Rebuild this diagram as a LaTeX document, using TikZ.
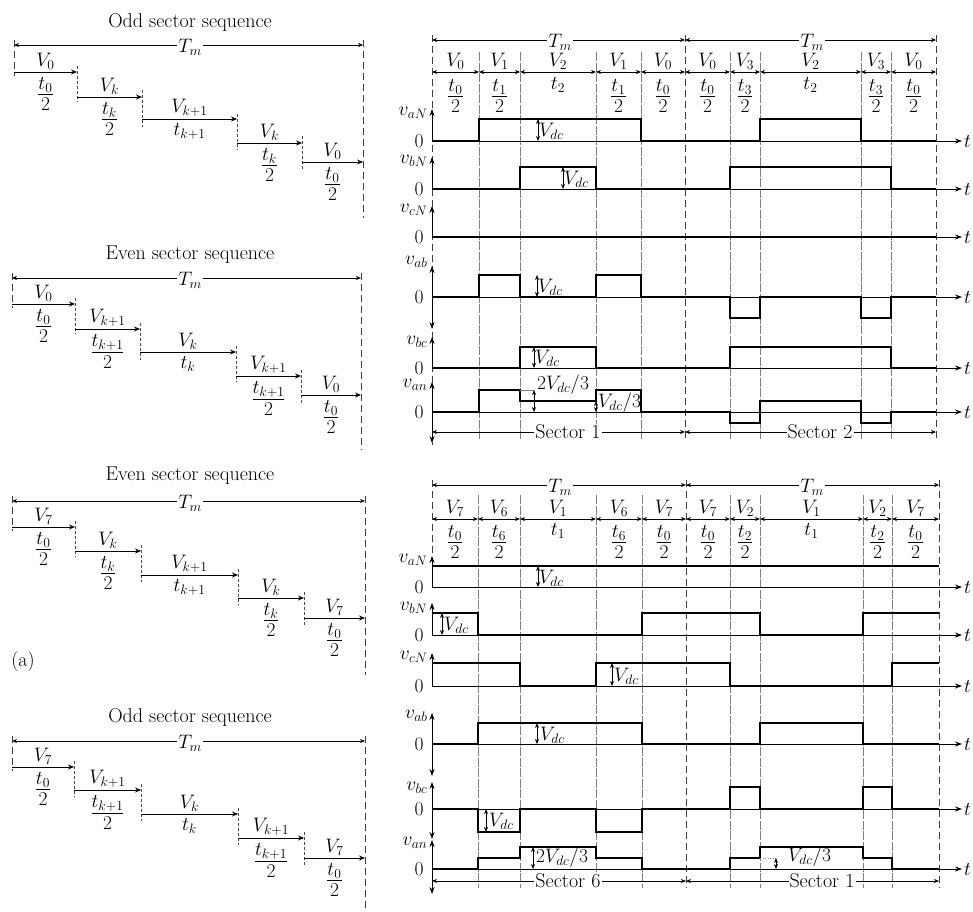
\RequirePackage{fix-cm}
\documentclass[tikz,border=0pt]{standalone}
\usepackage{amsmath}
\usepackage{tikz}
\usetikzlibrary{arrows.meta}
\usetikzlibrary{positioning}

% half-interval fraction, tighter than \dfrac
\newcommand{\hfr}[1]{\ensuremath{\vcenter{\offinterlineskip\halign{\hfil\,##\,\hfil\cr
  $#1$\cr\noalign{\kern2pt}\leaders\hrule height 0.9pt\hfill\cr\noalign{\kern3pt}$2$\cr}}}}

\begin{document}
\begin{tikzpicture}[x=1pt,y=-1pt,
  font=\fontsize{19.5}{23}\selectfont,
  big/.style={font=\fontsize{20}{24}\selectfont},
  wave/.style={line width=1.7pt},
  upar/.style={line width=0.8pt,-{Stealth[length=7pt,width=5pt]}},
  sectline/.style={gray!50!black,line width=0.9pt,dash pattern=on 7pt off 4pt},
  segline/.style={gray,line width=0.6pt,dash pattern=on 9pt off 1.5pt},
  tickln/.style={black!70,line width=0.7pt,dash pattern=on 3pt off 2pt},
  dimarr/.style={line width=0.7pt,{Stealth[length=5pt,width=4pt]}-{Stealth[length=5pt,width=4pt]}},
  stepar/.style={line width=0.8pt,-{Stealth[length=6pt,width=5pt]}},
  gap/.style={fill=white,inner sep=1pt},
  vlbl/.style={anchor=south,inner sep=1pt},
  tlbl/.style={anchor=north,inner sep=1pt}]
\useasboundingbox (0,0) rectangle (973,911);

% ---- left: odd sector sequence (V0)
\node[big] (ttlA) at (190,22) {Odd sector sequence};
\draw[sectline] (14,40) -- (14,76);
\draw[sectline] (363,40) -- (363,218);
\draw[dimarr] (14,45) -- (363,45);
\node[gap] (tmA) at (190,47) {$T_m$};
\draw[stepar] (14,72) -- (77,72);
\draw[tickln] (77,66) -- (77,102);
\draw[stepar] (77,97) -- (142,97);
\draw[tickln] (142,90) -- (142,127);
\draw[stepar] (142,119) -- (237,119);
\draw[tickln] (237,114) -- (237,150);
\draw[stepar] (237,143) -- (302,143);
\draw[tickln] (302,136) -- (302,170);
\draw[stepar] (302,162) -- (363,162);
\node[vlbl] (vA1) at (45.5,71) {$V_0$};
\node[tlbl] (tA1) at (45.5,76) {\hfr{t_0}};
\node[vlbl] (vA2) at (109.5,96) {$V_k$};
\node[tlbl] (tA2) at (109.5,101) {\hfr{t_k}};
\node[vlbl] (vA3) at (189.5,118) {$V_{k+1}$};
\node[tlbl] (tA3) at (189.5,122) {$t_{k+1}$};
\node[vlbl] (vA4) at (269.5,142) {$V_k$};
\node[tlbl] (tA4) at (269.5,147) {\hfr{t_k}};
\node[vlbl] (vA5) at (332.5,161) {$V_0$};
\node[tlbl] (tA5) at (332.5,166) {\hfr{t_0}};

% ---- left: even sector sequence (V0)
\node[big] (ttlB) at (190,255) {Even sector sequence};
\draw[sectline] (12,273) -- (12,308);
\draw[sectline] (361,273) -- (361,450);
\draw[dimarr] (12,278) -- (361,278);
\node[gap] (tmB) at (190,280) {$T_m$};
\draw[stepar] (12,304) -- (75,304);
\draw[tickln] (75,298) -- (75,334);
\draw[stepar] (75,329) -- (140,329);
\draw[tickln] (140,323) -- (140,360);
\draw[stepar] (140,352) -- (236,352);
\draw[tickln] (236,346) -- (236,382);
\draw[stepar] (236,376) -- (301,376);
\draw[tickln] (301,370) -- (301,403);
\draw[stepar] (301,395) -- (361,395);
\node[vlbl] (vB1) at (43.5,303) {$V_0$};
\node[tlbl] (tB1) at (43.5,308) {\hfr{t_0}};
\node[vlbl] (vB2) at (107.5,328) {$V_{k+1}$};
\node[tlbl] (tB2) at (107.5,333) {\hfr{t_{k+1}}};
\node[vlbl] (vB3) at (188,351) {$V_k$};
\node[tlbl] (tB3) at (188,355) {$t_k$};
\node[vlbl] (vB4) at (268.5,375) {$V_{k+1}$};
\node[tlbl] (tB4) at (268.5,380) {\hfr{t_{k+1}}};
\node[vlbl] (vB5) at (331,394) {$V_0$};
\node[tlbl] (tB5) at (331,399) {\hfr{t_0}};

% ---- left: even sector sequence (V7)
\node[big] (ttlC) at (190,476) {Even sector sequence};
\draw[sectline] (12,496) -- (12,531);
\draw[sectline] (365,496) -- (365,675);
\draw[dimarr] (12,501) -- (365,501);
\node[gap] (tmC) at (190,503) {$T_m$};
\draw[stepar] (12,527) -- (75,527);
\draw[tickln] (75,521) -- (75,557);
\draw[stepar] (75,551) -- (141,551);
\draw[tickln] (141,545) -- (141,582);
\draw[stepar] (141,575) -- (238,575);
\draw[tickln] (238,569) -- (238,605);
\draw[stepar] (238,598) -- (304,598);
\draw[tickln] (304,592) -- (304,626);
\draw[stepar] (304,618) -- (365,618);
\node[vlbl] (vC1) at (43.5,526) {$V_7$};
\node[tlbl] (tC1) at (43.5,531) {\hfr{t_0}};
\node[vlbl] (vC2) at (108,550) {$V_k$};
\node[tlbl] (tC2) at (108,555) {\hfr{t_k}};
\node[vlbl] (vC3) at (189.5,574) {$V_{k+1}$};
\node[tlbl] (tC3) at (189.5,578) {$t_{k+1}$};
\node[vlbl] (vC4) at (271,597) {$V_k$};
\node[tlbl] (tC4) at (271,602) {\hfr{t_k}};
\node[vlbl] (vC5) at (334.5,617) {$V_7$};
\node[tlbl] (tC5) at (334.5,622) {\hfr{t_0}};
\node[big] (capa) at (23,661) {(a)};

% ---- left: odd sector sequence (V7)
\node[big] (ttlD) at (190,717) {Odd sector sequence};
\draw[sectline] (12,736) -- (12,771);
\draw[sectline] (365,736) -- (365,911);
\draw[dimarr] (12,741) -- (365,741);
\node[gap] (tmD) at (190,743) {$T_m$};
\draw[stepar] (12,767) -- (74,767);
\draw[tickln] (74,761) -- (74,797);
\draw[stepar] (74,790) -- (141,790);
\draw[tickln] (141,784) -- (141,821);
\draw[stepar] (141,814) -- (238,814);
\draw[tickln] (238,808) -- (238,845);
\draw[stepar] (238,838) -- (304,838);
\draw[tickln] (304,832) -- (304,866);
\draw[stepar] (304,858) -- (365,858);
\node[vlbl] (vD1) at (43,766) {$V_7$};
\node[tlbl] (tD1) at (43,771) {\hfr{t_0}};
\node[vlbl] (vD2) at (107.5,789) {$V_{k+1}$};
\node[tlbl] (tD2) at (107.5,794) {\hfr{t_{k+1}}};
\node[vlbl] (vD3) at (189.5,813) {$V_k$};
\node[tlbl] (tD3) at (189.5,817) {$t_k$};
\node[vlbl] (vD4) at (271,837) {$V_{k+1}$};
\node[tlbl] (tD4) at (271,842) {\hfr{t_{k+1}}};
\node[vlbl] (vD5) at (334.5,857) {$V_7$};
\node[tlbl] (tD5) at (334.5,862) {\hfr{t_0}};

% ==== right top: sectors 1 and 2
\draw[sectline] (432,35) -- (432,445);
\draw[sectline] (685,35) -- (685,440);
\draw[sectline] (936,35) -- (936,440);
\draw[segline] (479,52) -- (479,440);
\draw[segline] (520,52) -- (520,440);
\draw[segline] (596,52) -- (596,440);
\draw[segline] (641,52) -- (641,440);
\draw[segline] (730,52) -- (730,440);
\draw[segline] (760,52) -- (760,440);
\draw[segline] (861,52) -- (861,440);
\draw[segline] (891,52) -- (891,440);
\draw[dimarr] (432,40) -- (685,40);
\node[gap] (tmE1) at (560,42) {$T_m$};
\draw[dimarr] (685,40) -- (936,40);
\node[gap] (tmE2) at (812,42) {$T_m$};
\draw[dimarr] (432,72) -- (479,72);
\draw[dimarr] (479,72) -- (520,72);
\draw[dimarr] (520,72) -- (596,72);
\draw[dimarr] (596,72) -- (641,72);
\draw[dimarr] (641,72) -- (685,72);
\draw[dimarr] (685,72) -- (730,72);
\draw[dimarr] (730,72) -- (760,72);
\draw[dimarr] (760,72) -- (861,72);
\draw[dimarr] (861,72) -- (891,72);
\draw[dimarr] (891,72) -- (936,72);
\node[vlbl] (vE1) at (455.5,71) {$V_0$};
\node[vlbl] (vE2) at (499.5,71) {$V_1$};
\node[vlbl] (vE3) at (558,71) {$V_2$};
\node[vlbl] (vE4) at (618.5,71) {$V_1$};
\node[vlbl] (vE5) at (663,71) {$V_0$};
\node[vlbl] (vE6) at (707.5,71) {$V_0$};
\node[vlbl] (vE7) at (745,71) {$V_3$};
\node[vlbl] (vE8) at (810.5,71) {$V_2$};
\node[vlbl] (vE9) at (876,71) {$V_3$};
\node[vlbl] (vE10) at (913.5,71) {$V_0$};
\node[tlbl] (tE1) at (455.5,78) {\hfr{t_0}};
\node[tlbl] (tE2) at (499.5,78) {\hfr{t_1}};
\node[tlbl] (tE3) at (558,76) {$t_2$};
\node[tlbl] (tE4) at (618.5,78) {\hfr{t_1}};
\node[tlbl] (tE5) at (663,78) {\hfr{t_0}};
\node[tlbl] (tE6) at (707.5,78) {\hfr{t_0}};
\node[tlbl] (tE7) at (745,78) {\hfr{t_3}};
\node[tlbl] (tE8) at (810.5,76) {$t_2$};
\node[tlbl] (tE9) at (876,78) {\hfr{t_3}};
\node[tlbl] (tE10) at (913.5,78) {\hfr{t_0}};

% v_aN
\draw[upar] (432,141) -- (432,109);
\draw[upar] (432,141) -- (962,141);
\node[anchor=east] (lE1) at (431,113) {$v_{aN}$};
\node[anchor=east] (zE1) at (427,141) {0};
\node[anchor=west,inner sep=1pt] (xE1) at (963,141) {$t$};
\draw[wave] (432,141) -- (479,141) -- (479,119) -- (641,119) -- (641,141) -- (760,141) -- (760,119) -- (861,119) -- (861,141) -- (936,141);
\draw[dimarr] (538,119) -- (538,141);
\node[anchor=west,inner sep=1pt] (dE1) at (538,131) {$V_{dc}$};
% v_bN
\draw[upar] (432,189) -- (432,157);
\draw[upar] (432,189) -- (962,189);
\node[anchor=east] (lE2) at (431,161) {$v_{bN}$};
\node[anchor=east] (zE2) at (427,189) {0};
\node[anchor=west,inner sep=1pt] (xE2) at (963,189) {$t$};
\draw[wave] (432,189) -- (520,189) -- (520,167) -- (596,167) -- (596,189) -- (730,189) -- (730,167) -- (891,167) -- (891,189) -- (936,189);
\draw[dimarr] (563,167) -- (563,189);
\node[anchor=west,inner sep=1pt] (dE2) at (563,179) {$V_{dc}$};
% v_cN
\draw[upar] (432,237) -- (432,206);
\draw[upar] (432,237) -- (962,237);
\node[anchor=east] (lE3) at (431,210) {$v_{cN}$};
\node[anchor=east] (zE3) at (427,237) {0};
\node[anchor=west,inner sep=1pt] (xE3) at (963,237) {$t$};
\draw[wave] (432,237) -- (936,237);
% v_ab
\draw[upar] (432,297) -- (432,266);
\draw[upar] (432,297) -- (432,329);
\draw[upar] (432,297) -- (962,297);
\node[anchor=east] (lE4) at (431,262) {$v_{ab}$};
\node[anchor=east] (zE4) at (427,297) {0};
\node[anchor=west,inner sep=1pt] (xE4) at (963,297) {$t$};
\draw[wave] (432,297) -- (479,297) -- (479,275) -- (520,275) -- (520,297) -- (596,297) -- (596,275) -- (641,275) -- (641,297) -- (730,297) -- (730,318) -- (760,318) -- (760,297) -- (861,297) -- (861,318) -- (891,318) -- (891,297) -- (936,297);
\draw[dimarr] (537,275) -- (537,297);
\node[anchor=west,inner sep=1pt] (dE4) at (537,287) {$V_{dc}$};
% v_bc
\draw[upar] (432,368) -- (432,337);
\draw[upar] (432,368) -- (962,368);
\node[anchor=east] (lE5) at (431,342) {$v_{bc}$};
\node[anchor=east] (zE5) at (427,368) {0};
\node[anchor=west,inner sep=1pt] (xE5) at (963,368) {$t$};
\draw[wave] (432,368) -- (520,368) -- (520,347) -- (596,347) -- (596,368) -- (730,368) -- (730,347) -- (891,347) -- (891,368) -- (936,368);
\draw[dimarr] (534,347) -- (534,368);
\node[anchor=west,inner sep=1pt] (dE5) at (534,358) {$V_{dc}$};
% v_an
\draw[upar] (432,412) -- (432,382);
\draw[upar] (432,412) -- (432,443);
\draw[upar] (432,412) -- (962,412);
\node[anchor=east] (lE6) at (431,385) {$v_{an}$};
\node[anchor=east] (zE6) at (427,412) {0};
\node[anchor=west,inner sep=1pt] (xE6) at (963,412) {$t$};
\draw[wave] (432,412) -- (479,412) -- (479,390) -- (520,390) -- (520,401) -- (596,401) -- (596,390) -- (641,390) -- (641,412) -- (730,412) -- (730,423) -- (760,423) -- (760,401) -- (861,401) -- (861,423) -- (891,423) -- (891,412) -- (936,412);
\draw[gray,line width=0.5pt] (520,390) -- (534,390);
\draw[dimarr] (534,390) -- (534,412);
\node[anchor=west,inner sep=1pt] (dE6) at (536,385) {$2V_{dc}/3$};
\draw[dimarr] (596,401) -- (596,412);
\node[anchor=west,inner sep=1pt] (dE7) at (597,403) {$V_{dc}/3$};
\draw[dimarr] (432,432) -- (685,432);
\node[gap,big] (scE1) at (568,432) {Sector 1};
\draw[dimarr] (685,432) -- (936,432);
\node[gap,big] (scE2) at (820,432) {Sector 2};

% ==== right bottom: sectors 6 and 1
\draw[sectline] (432,480) -- (432,557);
\draw[sectline] (686,480) -- (686,888);
\draw[sectline] (939,480) -- (939,888);
\draw[segline] (478,495) -- (478,888);
\draw[segline] (520,495) -- (520,888);
\draw[segline] (596,495) -- (596,888);
\draw[segline] (642,495) -- (642,888);
\draw[segline] (730,495) -- (730,888);
\draw[segline] (760,495) -- (760,888);
\draw[segline] (863,495) -- (863,888);
\draw[segline] (892,495) -- (892,888);
\draw[dimarr] (432,485) -- (686,485);
\node[gap] (tmF1) at (560,487) {$T_m$};
\draw[dimarr] (686,485) -- (939,485);
\node[gap] (tmF2) at (812,487) {$T_m$};
\draw[dimarr] (432,519) -- (478,519);
\draw[dimarr] (478,519) -- (520,519);
\draw[dimarr] (520,519) -- (596,519);
\draw[dimarr] (596,519) -- (642,519);
\draw[dimarr] (642,519) -- (686,519);
\draw[dimarr] (686,519) -- (730,519);
\draw[dimarr] (730,519) -- (760,519);
\draw[dimarr] (760,519) -- (863,519);
\draw[dimarr] (863,519) -- (892,519);
\draw[dimarr] (892,519) -- (939,519);
\node[vlbl] (vF1) at (455,518) {$V_7$};
\node[vlbl] (vF2) at (499,518) {$V_6$};
\node[vlbl] (vF3) at (558,518) {$V_1$};
\node[vlbl] (vF4) at (619,518) {$V_6$};
\node[vlbl] (vF5) at (664,518) {$V_7$};
\node[vlbl] (vF6) at (708,518) {$V_7$};
\node[vlbl] (vF7) at (745,518) {$V_2$};
\node[vlbl] (vF8) at (811.5,518) {$V_1$};
\node[vlbl] (vF9) at (877.5,518) {$V_2$};
\node[vlbl] (vF10) at (915.5,518) {$V_7$};
\node[tlbl] (tF1) at (455,524) {\hfr{t_0}};
\node[tlbl] (tF2) at (499,524) {\hfr{t_6}};
\node[tlbl] (tF3) at (558,522) {$t_1$};
\node[tlbl] (tF4) at (619,524) {\hfr{t_6}};
\node[tlbl] (tF5) at (664,524) {\hfr{t_0}};
\node[tlbl] (tF6) at (708,524) {\hfr{t_0}};
\node[tlbl] (tF7) at (745,524) {\hfr{t_2}};
\node[tlbl] (tF8) at (811.5,522) {$t_1$};
\node[tlbl] (tF9) at (877.5,524) {\hfr{t_2}};
\node[tlbl] (tF10) at (915.5,524) {\hfr{t_0}};

% v_aN
\draw[upar] (432,587) -- (432,556);
\draw[upar] (432,587) -- (962,587);
\node[anchor=east] (lF1) at (431,560) {$v_{aN}$};
\node[anchor=east] (zF1) at (427,587) {0};
\node[anchor=west,inner sep=1pt] (xF1) at (963,587) {$t$};
\draw[wave] (432,566) -- (939,566);
\draw[dimarr] (538,566) -- (538,587);
\node[anchor=west,inner sep=1pt] (dF1) at (538,578) {$V_{dc}$};
% v_bN
\draw[upar] (432,635) -- (432,603);
\draw[upar] (432,635) -- (962,635);
\node[anchor=east] (lF2) at (431,608) {$v_{bN}$};
\node[anchor=east] (zF2) at (427,635) {0};
\node[anchor=west,inner sep=1pt] (xF2) at (963,635) {$t$};
\draw[wave] (432,613) -- (478,613) -- (478,635) -- (642,635) -- (642,613) -- (760,613) -- (760,635) -- (863,635) -- (863,613) -- (939,613);
\draw[dimarr] (442,613) -- (442,635);
\node[anchor=west,inner sep=1pt] (dF2) at (443,625) {$V_{dc}$};
% v_cN
\draw[upar] (432,686) -- (432,653);
\draw[upar] (432,686) -- (962,686);
\node[anchor=east] (lF3) at (431,657) {$v_{cN}$};
\node[anchor=east] (zF3) at (427,686) {0};
\node[anchor=west,inner sep=1pt] (xF3) at (963,686) {$t$};
\draw[wave] (432,663) -- (520,663) -- (520,686) -- (596,686) -- (596,663) -- (730,663) -- (730,686) -- (892,686) -- (892,663) -- (939,663);
\draw[dimarr] (612,663) -- (612,686);
\node[anchor=west,inner sep=1pt] (dF3) at (613,676) {$V_{dc}$};
% v_ab
\draw[upar] (432,744) -- (432,713);
\draw[upar] (432,744) -- (432,776);
\draw[upar] (432,744) -- (962,744);
\node[anchor=east] (lF4) at (431,716) {$v_{ab}$};
\node[anchor=east] (zF4) at (427,744) {0};
\node[anchor=west,inner sep=1pt] (xF4) at (963,744) {$t$};
\draw[wave] (432,744) -- (478,744) -- (478,723) -- (642,723) -- (642,744) -- (760,744) -- (760,723) -- (863,723) -- (863,744) -- (939,744);
\draw[dimarr] (537,723) -- (537,744);
\node[anchor=west,fill=white,inner sep=1pt] (dF4) at (539,735) {$V_{dc}$};
% v_bc
\draw[upar] (432,809) -- (432,782);
\draw[upar] (432,809) -- (432,839);
\draw[upar] (432,809) -- (962,809);
\node[anchor=east] (lF5) at (431,788) {$v_{bc}$};
\node[anchor=east] (zF5) at (427,809) {0};
\node[anchor=west,inner sep=1pt] (xF5) at (963,809) {$t$};
\draw[wave] (432,809) -- (478,809) -- (478,832) -- (520,832) -- (520,809) -- (596,809) -- (596,832) -- (642,832) -- (642,809) -- (730,809) -- (730,787) -- (760,787) -- (760,809) -- (863,809) -- (863,787) -- (892,787) -- (892,809) -- (939,809);
\draw[dimarr] (486,809) -- (486,832);
\node[anchor=west,fill=white,inner sep=1pt] (dF5) at (488,821) {$V_{dc}$};
% v_an
\draw[upar] (432,869) -- (432,840);
\draw[upar] (432,869) -- (432,894);
\draw[upar] (432,869) -- (962,869);
\node[anchor=east] (lF6) at (431,843) {$v_{an}$};
\node[anchor=east] (zF6) at (427,869) {0};
\node[anchor=west,inner sep=1pt] (xF6) at (963,869) {$t$};
\draw[wave] (432,869) -- (478,869) -- (478,858) -- (520,858) -- (520,847) -- (596,847) -- (596,858) -- (642,858) -- (642,869) -- (730,869) -- (730,858) -- (760,858) -- (760,847) -- (863,847) -- (863,858) -- (892,858) -- (892,869) -- (939,869);
\draw[dimarr] (533,847) -- (533,869);
\node[anchor=west,inner sep=1pt] (dF6) at (535,858) {$2V_{dc}/3$};
\draw[gray,line width=0.5pt,dotted] (760,858) -- (776,858);
\draw[dimarr] (776,858) -- (776,869);
\node[anchor=west,inner sep=1pt] (dF7) at (787,857) {$V_{dc}/3$};
\draw[dimarr] (432,881) -- (686,881);
\node[gap,big] (scF1) at (568,881) {Sector 6};
\draw[dimarr] (686,881) -- (939,881);
\node[gap,big] (scF2) at (822,881) {Sector 1};

\end{tikzpicture}
\end{document}
